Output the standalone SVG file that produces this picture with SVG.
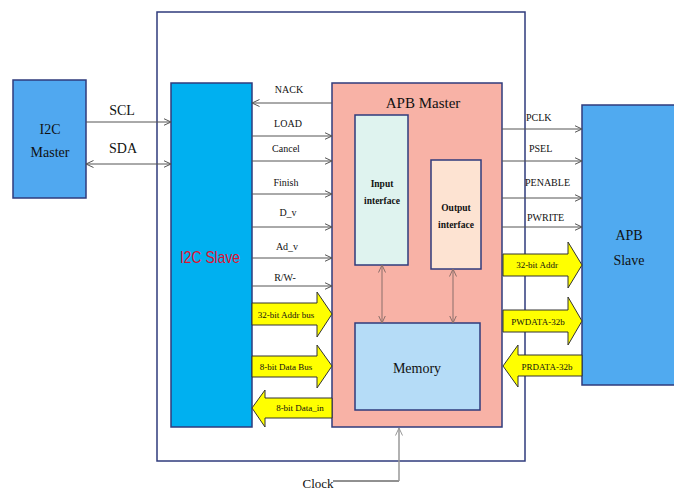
<svg xmlns="http://www.w3.org/2000/svg" width="674" height="490" viewBox="0 0 674 490">
<defs>
<marker id="ah" viewBox="0 0 8 8" refX="7.5" refY="4" markerWidth="8" markerHeight="8" markerUnits="userSpaceOnUse" orient="auto-start-reverse">
<path d="M0,0.5 L7.5,4 L0,7.5" fill="none" stroke="#555" stroke-width="1"/>
</marker>
<marker id="ahb" viewBox="0 0 8 8" refX="7.5" refY="4" markerWidth="8" markerHeight="8" markerUnits="userSpaceOnUse" orient="auto-start-reverse">
<path d="M0,0.5 L7.5,4 L0,7.5" fill="none" stroke="#8a6e6a" stroke-width="1"/>
</marker>
<marker id="ahg" viewBox="0 0 8 8" refX="7.5" refY="4" markerWidth="8" markerHeight="8" markerUnits="userSpaceOnUse" orient="auto">
<path d="M0,0.5 L7.5,4 L0,7.5" fill="none" stroke="#999" stroke-width="1"/>
</marker>
</defs>
<style>
.box{stroke:#2f3b7c;stroke-width:1.5}
.t{font-family:"Liberation Serif","Times New Roman",serif;fill:#111}
.sig{font-size:10px;text-anchor:middle}
.sigr{font-size:10px}
.bus{font-size:9px;text-anchor:middle}
.big{font-size:14px;text-anchor:middle}
.ln{stroke:#555;stroke-width:1;fill:none}
.yel{fill:#ffff00;stroke:#333;stroke-width:1}
</style>
<rect width="674" height="490" fill="#fff"/>
<g id="outer"><rect class="box" x="157" y="12" width="368" height="449" fill="#fff"/></g>
<g id="i2c-master"><rect class="box" x="13" y="80" width="73" height="118" fill="#50a8f0"/>
<text class="t big" x="50" y="134">I2C</text><text class="t big" x="50" y="157">Master</text></g>
<g id="i2c-slave"><rect class="box" x="171" y="83" width="81" height="344" fill="#00b0f0"/>
<text x="180" y="263" font-family="'Liberation Sans',Arial,sans-serif" font-size="17" fill="#e0102f" textLength="60" lengthAdjust="spacingAndGlyphs">I2C Slave</text></g>
<g id="apb-master"><rect class="box" x="332" y="83" width="170" height="344" fill="#f8b2a6"/>
<text class="t" x="423" y="108" font-size="15" text-anchor="middle">APB Master</text></g>
<g id="input-interface"><rect class="box" x="355" y="115" width="53" height="150" fill="#dff3ef"/>
<text class="t" x="382" y="187" font-size="9.5" font-weight="bold" text-anchor="middle">Input</text>
<text class="t" x="382" y="204" font-size="9.5" font-weight="bold" text-anchor="middle">interface</text></g>
<g id="output-interface"><rect class="box" x="431" y="160" width="50" height="109" fill="#fde3d2"/>
<text class="t" x="456" y="211" font-size="9.5" font-weight="bold" text-anchor="middle">Output</text>
<text class="t" x="456" y="228" font-size="9.5" font-weight="bold" text-anchor="middle">interface</text></g>
<g id="memory"><rect class="box" x="355" y="323" width="125" height="87" fill="#b5dcf7"/>
<text class="t" x="417" y="373" font-size="14" text-anchor="middle">Memory</text></g>
<g id="apb-slave"><rect class="box" x="582" y="105" width="94" height="280" fill="#50aaf0"/>
<text class="t big" x="629" y="240">APB</text><text class="t big" x="629" y="265">Slave</text></g>
<g id="connectors">
<line class="ln" x1="86" y1="122" x2="171" y2="122" marker-end="url(#ah)"/>
<line class="ln" x1="86" y1="164" x2="171" y2="164" marker-start="url(#ah)" marker-end="url(#ah)"/>
<line class="ln" x1="332" y1="103" x2="252" y2="103" marker-end="url(#ah)"/>
<line class="ln" x1="252" y1="136" x2="332" y2="136" marker-end="url(#ah)"/>
<line class="ln" x1="252" y1="161" x2="332" y2="161" marker-end="url(#ah)"/>
<line class="ln" x1="252" y1="194" x2="332" y2="194" marker-end="url(#ah)"/>
<line class="ln" x1="252" y1="227" x2="332" y2="227" marker-end="url(#ah)"/>
<line class="ln" x1="252" y1="258" x2="332" y2="258" marker-end="url(#ah)"/>
<line class="ln" x1="252" y1="286" x2="332" y2="286" marker-end="url(#ah)"/>
<line class="ln" x1="502" y1="129" x2="582" y2="129" marker-end="url(#ah)"/>
<line class="ln" x1="502" y1="161" x2="582" y2="161" marker-end="url(#ah)"/>
<line class="ln" x1="502" y1="198" x2="582" y2="198" marker-end="url(#ah)"/>
<line class="ln" x1="502" y1="227" x2="582" y2="227" marker-end="url(#ah)"/>
<line x1="382" y1="265" x2="382" y2="323" stroke="#8a6e6a" stroke-width="1" marker-start="url(#ahb)" marker-end="url(#ahb)"/>
<line x1="453" y1="269" x2="453" y2="323" stroke="#8a6e6a" stroke-width="1" marker-start="url(#ahb)" marker-end="url(#ahb)"/>
<polyline points="333,481 399,481" fill="none" stroke="#222" stroke-width="1"/>
<line x1="399" y1="481" x2="399" y2="428" stroke="#999" stroke-width="1.5" marker-end="url(#ahg)"/>
<polygon class="yel" points="252,303 317,303 317,292 332,314 317,337 317,325 252,325"/>
<polygon class="yel" points="252,356 317,356 317,345 332,366 317,388 317,377 252,377"/>
<polygon class="yel" points="332,398 265,398 265,390 252,408 265,427 265,418 332,418"/>
<polygon class="yel" points="503,254 568,254 568,242 582,265 568,288 568,276 503,276"/>
<polygon class="yel" points="503,310 568,310 568,297 582,321 568,345 568,332 503,332"/>
<polygon class="yel" points="582,355 518,355 518,345 503,366 518,387 518,376 582,376"/>
</g>
<g id="labels">
<text class="t" x="122" y="115" font-size="14" text-anchor="middle">SCL</text>
<text class="t" x="123" y="153" font-size="14" text-anchor="middle">SDA</text>
<text class="t sig" x="289" y="93">NACK</text>
<text class="t sig" x="288" y="127">LOAD</text>
<text class="t sig" x="286" y="152">Cancel</text>
<text class="t sig" x="286" y="186">Finish</text>
<text class="t sig" x="288" y="216">D_v</text>
<text class="t sig" x="287" y="250">Ad_v</text>
<text class="t sig" x="285" y="281">R/W-</text>
<text class="t sigr" x="526" y="121">PCLK</text>
<text class="t sigr" x="529" y="152">PSEL</text>
<text class="t sigr" x="525" y="186">PENABLE</text>
<text class="t sigr" x="527" y="221">PWRITE</text>
<text class="t bus" x="286" y="318">32-bit Addr bus</text>
<text class="t bus" x="286" y="370">8-bit Data Bus</text>
<text class="t bus" x="300" y="411">8-bit Data_in</text>
<text class="t bus" x="537" y="268">32-bit Addr</text>
<text class="t bus" x="538" y="325">PWDATA-32b</text>
<text class="t bus" x="547" y="370">PRDATA-32b</text>
<text class="t" x="318" y="488" font-size="13" text-anchor="middle">Clock</text>
</g>
</svg>
